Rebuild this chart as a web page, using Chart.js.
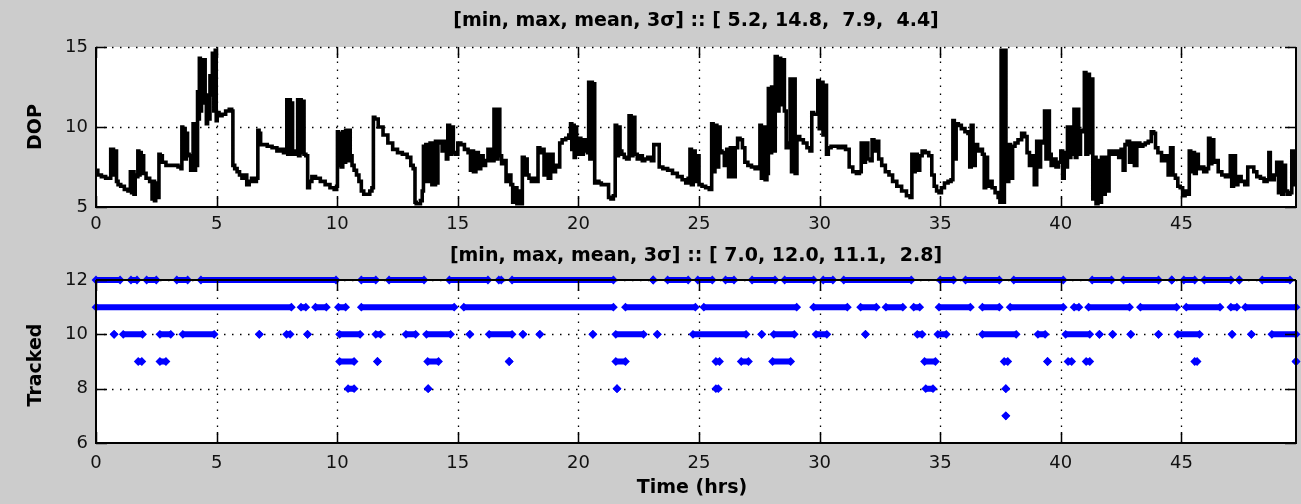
<!DOCTYPE html>
<html>
<head>
<meta charset="utf-8">
<script src="https://cdn.jsdelivr.net/npm/chart.js@4.4.1/dist/chart.umd.min.js"></script>
<style>
    body{margin:0;background:#cccccc;width:1301px;height:504px;overflow:hidden}
    .panel{position:absolute;left:0;width:1301px}
    #top-panel{top:0;height:240px}
    #bottom-panel{top:240px;height:264px}
</style>
</head>
<body>
<div class="panel" id="top-panel"><canvas id="dop-chart"></canvas></div>
<div class="panel" id="bottom-panel"><canvas id="tracked-chart"></canvas></div>
<script>
//----------------------------------DATA-----------------------------------------------------------

const hourTicks = [0,5,10,15,20,25,30,35,40,45]
const hourMax = 49.75
const dopTicks = [5,10,15]
const trackedTicks = [6,8,10,12]

const dopTitle = '[min, max, mean, 3\u03c3] :: [ 5.2, 14.8,  7.9,  4.4]'
const trackedTitle = '[min, max, mean, 3\u03c3] :: [ 7.0, 12.0, 11.1,  2.8]'

// DOP trace (hours / value)
const dopHours = [
    0,0.15,0.3,0.5,0.6,0.62,0.7,0.75,0.82,0.88,
    0.95,1.1,1.25,1.4,1.45,1.5,1.55,1.6,1.65,1.72,
    1.75,1.8,1.85,1.9,1.95,2.0,2.15,2.3,2.35,2.4,
    2.45,2.5,2.55,2.6,2.62,2.7,2.8,3.0,3.3,3.5,
    3.55,3.57,3.62,3.67,3.72,3.77,3.82,3.9,3.95,4.0,
    4.05,4.1,4.15,4.2,4.22,4.27,4.3,4.35,4.4,4.45,
    4.5,4.55,4.6,4.65,4.7,4.75,4.8,4.85,4.92,4.97,
    5.0,5.05,5.15,5.3,5.45,5.6,5.65,5.7,5.8,5.9,
    6.0,6.1,6.2,6.3,6.4,6.5,6.6,6.7,6.72,6.8,
    6.85,7.0,7.2,7.4,7.6,7.7,7.85,7.9,7.92,7.98,
    8.03,8.08,8.12,8.18,8.25,8.35,8.37,8.43,8.48,8.53,
    8.6,8.65,8.75,8.8,8.9,9.0,9.2,9.4,9.6,9.8,
    9.95,10.0,10.02,10.08,10.14,10.2,10.26,10.32,10.38,10.45,
    10.5,10.58,10.65,10.75,10.85,10.95,11.05,11.15,11.3,11.4,
    11.48,11.52,11.6,11.8,12.0,12.2,12.4,12.6,12.8,13.0,
    13.1,13.2,13.25,13.3,13.4,13.5,13.55,13.6,13.65,13.7,
    13.75,13.8,13.9,13.95,14.0,14.05,14.1,14.15,14.2,14.3,
    14.4,14.5,14.55,14.62,14.7,14.78,14.85,14.95,15.05,15.2,
    15.35,15.5,15.55,15.6,15.7,15.8,15.9,16.0,16.1,16.2,
    16.3,16.45,16.55,16.62,16.7,16.78,16.85,16.95,17.05,17.15,
    17.25,17.3,17.4,17.5,17.6,17.65,17.7,17.8,17.85,17.9,
    18.0,18.1,18.2,18.3,18.35,18.45,18.55,18.6,18.7,18.8,
    18.9,19.0,19.1,19.2,19.25,19.4,19.55,19.65,19.7,19.75,
    19.8,19.85,19.9,19.95,20.05,20.15,20.25,20.35,20.4,20.45,
    20.5,20.55,20.6,20.65,20.7,20.8,20.9,21.0,21.2,21.3,
    21.4,21.5,21.55,21.62,21.7,21.75,21.85,21.95,22.05,22.15,
    22.22,22.3,22.38,22.5,22.6,22.7,22.8,22.95,23.1,23.15,
    23.3,23.4,23.6,23.8,24.0,24.2,24.4,24.5,24.6,24.65,
    24.72,24.8,24.88,24.95,25.05,25.2,25.35,25.5,25.55,25.62,
    25.7,25.78,25.85,25.9,26.0,26.1,26.2,26.25,26.35,26.45,
    26.55,26.65,26.75,26.85,26.95,27.1,27.25,27.4,27.5,27.55,
    27.62,27.7,27.78,27.85,27.9,27.97,28.05,28.12,28.2,28.28,
    28.35,28.42,28.5,28.58,28.65,28.75,28.8,28.87,28.95,29.02,
    29.1,29.25,29.4,29.55,29.65,29.7,29.8,29.9,29.95,30.02,
    30.1,30.18,30.25,30.32,30.4,30.55,30.7,30.85,31.0,31.15,
    31.3,31.45,31.6,31.7,31.75,31.85,31.95,32.05,32.15,32.2,
    32.3,32.4,32.5,32.65,32.8,32.95,33.1,33.3,33.5,33.7,
    33.8,33.85,33.92,34.0,34.1,34.2,34.3,34.45,34.6,34.7,
    34.8,34.9,35.0,35.1,35.25,35.4,35.5,35.55,35.62,35.7,
    35.8,35.95,36.1,36.2,36.25,36.32,36.4,36.5,36.6,36.7,
    36.8,36.85,36.92,37.0,37.1,37.2,37.35,37.45,37.5,37.55,
    37.62,37.7,37.75,37.8,37.88,37.95,38.05,38.15,38.3,38.45,
    38.55,38.65,38.75,38.85,38.95,39.05,39.12,39.2,39.3,39.35,
    39.42,39.5,39.55,39.65,39.75,39.85,39.95,40.05,40.1,40.18,
    40.25,40.3,40.38,40.45,40.52,40.57,40.63,40.7,40.78,40.85,
    40.95,41.0,41.08,41.15,41.22,41.3,41.35,41.42,41.5,41.58,
    41.65,41.72,41.8,41.88,41.95,42.05,42.2,42.35,42.45,42.55,
    42.62,42.7,42.8,42.9,43.0,43.1,43.2,43.35,43.45,43.55,
    43.7,43.8,43.9,43.95,44.1,44.25,44.4,44.5,44.6,44.7,
    44.8,44.9,45.0,45.1,45.2,45.3,45.35,45.42,45.5,45.58,
    45.65,45.75,45.85,46.0,46.1,46.15,46.22,46.3,46.38,46.45,
    46.6,46.75,46.9,47.0,47.05,47.12,47.2,47.28,47.4,47.55,
    47.7,47.8,47.95,48.05,48.2,48.35,48.5,48.6,48.65,48.72,
    48.8,48.9,49.0,49.05,49.12,49.2,49.28,49.35,49.45,49.55,
    49.6,49.67,49.75
]
const dopValues = [
    7.3,7.0,6.9,6.8,6.8,8.6,8.6,7.0,8.5,6.6,
    6.4,6.3,6.1,6.0,7.2,5.9,7.2,5.8,7.0,6.9,
    8.5,7.0,8.4,7.2,8.2,7.1,6.8,6.6,5.5,6.6,
    5.4,6.5,5.6,5.6,8.3,8.2,7.8,7.6,7.6,7.5,
    7.4,10.0,8.0,9.9,8.0,9.6,8.3,8.2,7.3,7.3,
    10.2,7.3,10.1,7.6,12.2,10.5,14.3,11.0,14.2,11.5,
    14.2,12.0,10.2,11.8,10.5,13.2,12.0,14.6,11.0,14.8,
    10.4,10.9,10.7,10.8,11.0,11.1,11.0,7.6,7.4,7.2,
    7.0,6.8,7.0,6.4,6.6,6.8,6.6,6.8,9.8,9.6,
    8.9,8.9,8.8,8.7,8.5,8.6,8.4,8.6,11.7,8.3,
    11.7,8.3,11.5,8.5,8.3,8.4,11.7,8.2,11.7,8.4,
    11.6,8.3,8.2,6.2,6.6,6.9,6.8,6.6,6.4,6.2,
    6.1,6.3,9.7,7.6,9.6,7.5,9.7,7.8,9.8,7.9,
    9.8,8.2,7.6,7.3,7.0,6.6,6.0,5.8,5.8,6.0,
    6.2,10.6,10.5,10.0,9.5,9.0,8.6,8.4,8.3,8.1,
    7.6,7.4,5.3,5.2,5.2,5.4,6.0,8.8,6.6,8.9,
    6.6,8.9,9.0,6.4,9.0,6.4,9.1,6.5,9.0,9.1,
    8.5,9.1,8.0,10.1,8.3,10.0,8.4,8.3,9.0,8.9,
    8.6,8.4,7.3,8.5,7.2,8.4,7.4,8.2,7.6,7.9,
    8.6,7.9,11.1,8.0,11.1,8.2,7.7,7.9,6.6,7.0,
    6.4,5.3,6.2,5.2,6.0,5.2,8.1,7.0,8.0,7.0,
    6.8,6.6,6.8,6.6,8.7,8.4,8.6,7.0,8.3,6.8,
    8.3,7.2,7.6,7.5,9.0,9.2,9.3,9.5,10.2,8.6,
    10.1,8.1,10.0,8.3,9.3,8.3,9.2,8.5,8.4,12.8,
    8.0,12.8,8.3,12.7,6.5,6.6,6.5,6.4,6.4,5.6,
    5.5,5.7,10.1,8.2,10.0,8.5,8.3,8.1,8.0,10.7,
    8.2,10.6,8.3,8.0,8.2,7.9,8.0,8.1,7.9,8.9,
    8.9,7.5,7.4,7.3,7.1,6.9,6.7,6.5,6.8,8.6,
    6.4,8.5,6.6,8.2,6.4,6.3,6.2,6.1,10.2,7.2,
    10.1,7.5,10.0,8.5,8.4,7.6,8.6,6.9,8.7,6.9,
    8.7,9.3,9.2,8.7,7.8,7.6,7.5,7.4,7.5,10.1,
    6.8,10.0,6.7,7.1,12.4,8.4,12.5,8.5,14.4,11.0,
    14.3,11.4,14.2,11.0,8.7,9.0,13.0,7.2,13.0,7.1,
    9.4,9.2,9.0,8.7,8.5,10.9,10.8,10.8,12.9,9.9,
    12.8,9.5,12.6,8.3,8.7,8.8,8.8,8.7,8.8,8.6,
    7.5,7.2,7.1,7.2,9.0,7.8,9.0,8.0,7.9,9.2,
    8.5,9.1,8.0,7.6,7.2,7.0,6.6,6.3,6.0,5.7,
    5.6,8.3,7.2,8.3,7.3,8.2,8.5,8.4,8.2,7.0,
    6.3,6.0,5.9,6.2,6.5,6.6,6.7,10.4,8.0,10.2,
    10.1,9.9,9.7,9.6,7.5,10.1,7.6,8.9,8.5,8.6,
    8.3,6.2,8.1,6.3,6.6,6.2,5.9,5.6,5.3,14.8,
    5.3,14.8,8.0,6.6,8.9,6.8,8.8,9.0,9.2,9.6,
    9.4,8.4,7.6,8.2,6.4,9.1,7.5,9.1,9.0,11.0,
    8.0,11.0,8.3,7.6,8.0,7.5,7.8,8.5,6.8,8.4,
    7.5,10.0,8.1,10.0,8.3,11.1,8.1,11.1,8.3,9.8,
    9.7,13.4,8.3,13.3,8.4,13.0,5.5,8.1,5.2,7.9,
    5.3,8.1,5.8,8.1,6.0,8.5,8.3,8.5,8.1,8.6,
    7.3,8.9,9.1,7.8,9.0,7.6,9.0,8.8,8.9,9.0,
    9.1,9.7,9.6,8.7,8.4,7.9,8.2,7.0,8.7,7.0,
    6.8,6.3,6.2,5.7,6.0,5.8,8.5,7.2,8.4,7.1,
    8.3,7.4,7.5,7.2,7.4,9.3,7.7,9.2,7.8,7.9,
    7.2,7.0,6.9,7.0,8.2,6.3,8.2,6.4,6.9,6.6,
    6.4,7.5,7.5,7.2,6.9,6.8,6.6,6.7,8.4,7.0,
    6.7,7.0,7.8,5.9,7.8,5.8,7.6,6.0,5.8,5.9,
    8.5,6.4,8.3
]

// tracked satellites: [first, last] hour of each run of samples at that count
const tracked12 = [[0,1.0],[1.45,1.7],[2.1,2.5],[3.35,3.8],[4.35,9.95],[11.0,11.6],[12.15,13.6],[14.65,16.25],
    [16.7,16.8],[17.25,21.45],[23.1,23.1],[23.7,24.55],[24.95,25.55],[26.1,26.45],[27.2,28.15],[28.55,29.75],
    [30.15,30.55],[31.0,33.8],[35.0,35.55],[36.05,37.45],[38.05,40.1],[41.3,42.1],[42.6,44.05],[44.6,44.6],
    [45.1,45.55],[45.95,47.05],[47.4,47.4],[48.35,49.5]]
const tracked11 = [[0,8.1],[8.5,8.7],[9.1,9.55],[10.05,10.35],[11.0,14.85],[15.25,21.45],[21.95,24.85],[25.2,29.05],
    [29.75,31.15],[31.7,32.35],[32.75,33.45],[33.9,34.15],[34.95,36.25],[36.75,37.45],[37.9,40.1],[40.55,40.75],
    [41.15,42.85],[43.3,44.8],[45.2,46.6],[47.05,47.3],[47.65,49.75]]
const tracked10 = [[0.75,0.75],[1.13,1.93],[2.65,3.1],[3.6,4.9],[6.77,6.77],[7.9,8.05],[8.77,8.77],[10.1,10.95],
    [11.6,11.8],[12.85,13.25],[13.7,14.7],[15.5,15.5],[16.3,17.25],[17.7,17.7],[18.4,18.4],[20.6,20.6],
    [21.55,22.7],[23.27,23.27],[24.75,26.95],[27.6,27.6],[28.1,28.95],[29.85,30.3],[31.9,31.9],[34.05,34.25],
    [34.9,35.25],[36.75,38.15],[39.05,39.35],[40.2,41.2],[41.6,41.6],[42.15,42.15],[42.9,42.9],[44.05,44.05],
    [44.85,45.75],[47.1,47.1],[47.9,47.9],[48.75,49.75]]
const tracked9 = [[1.75,1.9],[2.65,2.9],[10.1,10.7],[11.67,11.67],[13.75,14.2],[17.13,17.13],[21.55,21.95],
    [25.7,25.85],[26.75,27.05],[28.05,28.8],[34.35,34.8],[37.65,37.8],[39.45,39.45],[40.3,40.45],[41.05,41.2],
    [45.55,45.65],[49.75,49.75]]
const tracked8 = [[10.45,10.7],[13.77,13.77],[21.6,21.6],[25.7,25.8],[34.4,34.7],[37.72,37.72]]
const tracked7 = [[37.72,37.72]]

//----------------------------------HELPERS-----------------------------------------------------------

const tickFont = {family:'"DejaVu Sans"', size:18}
const boldFont = 'bold 19px "DejaVu Sans"'

function runsToPoints(runs, level){
    let pts = []
    for(let r of runs){
        pts.push({x:r[0], y:level})
        pts.push({x:r[1], y:level})
        pts.push({x:r[1], y:null})   // break the line between runs
    }
    return pts
}

function trackedSet(runs, level){
    return {
        data: runsToPoints(runs, level),
        showLine: true,
        spanGaps: false,
        borderColor: '#0000ff',
        borderWidth: 6,
        backgroundColor: '#0000ff',
        pointStyle: 'rectRot',
        pointRadius: 4.4,
        pointBorderWidth: 0,
        clip: false,
    }
}

// matlab look: white box, dotted grid, inward ticks, bold labels
const matlabAxes = {
    id: 'matlabAxes',
    beforeDraw(chart){
        const a = chart.chartArea, ctx = chart.ctx
        ctx.save()
        ctx.fillStyle = '#ffffff'
        ctx.fillRect(a.left, a.top, a.right - a.left, a.bottom - a.top)
        ctx.restore()
    },
    beforeDatasetsDraw(chart, args, opts){
        const a = chart.chartArea, ctx = chart.ctx
        const x = chart.scales.x, y = chart.scales.y
        ctx.save()
        ctx.strokeStyle = '#000'
        ctx.lineWidth = 1.3
        ctx.setLineDash([1.5, 6.5])
        for(let v of hourTicks){
            if(v == 0) continue
            let px = Math.round(x.getPixelForValue(v)) + 0.5
            ctx.beginPath(); ctx.moveTo(px, a.bottom); ctx.lineTo(px, a.top); ctx.stroke()
        }
        for(let v of opts.yTicks){
            let py = Math.round(y.getPixelForValue(v)) + 0.5
            if(py > a.bottom - 1) continue
            ctx.beginPath(); ctx.moveTo(a.left, py); ctx.lineTo(a.right, py); ctx.stroke()
        }
        ctx.restore()
    },
    afterDatasetsDraw(chart, args, opts){
        const a = chart.chartArea, ctx = chart.ctx
        const x = chart.scales.x, y = chart.scales.y
        const tl = 11
        ctx.save()
        ctx.strokeStyle = '#000'
        ctx.lineWidth = 2
        ctx.setLineDash([])
        ctx.beginPath()
        if(opts.solidTop){
            ctx.moveTo(a.left, a.top); ctx.lineTo(a.right, a.top)
        }
        ctx.moveTo(a.left, a.top); ctx.lineTo(a.left, a.bottom); ctx.lineTo(a.right, a.bottom); ctx.lineTo(a.right, a.top)
        ctx.stroke()
        ctx.lineWidth = 1.5
        ctx.beginPath()
        for(let v of hourTicks){
            let px = Math.round(x.getPixelForValue(v)) + 0.5
            ctx.moveTo(px, a.bottom); ctx.lineTo(px, a.bottom - tl)
            ctx.moveTo(px, a.top); ctx.lineTo(px, a.top + tl)
        }
        for(let v of opts.yTicks){
            let py = Math.round(y.getPixelForValue(v)) + 0.5
            ctx.moveTo(a.left, py); ctx.lineTo(a.left + tl, py)
            ctx.moveTo(a.right, py); ctx.lineTo(a.right - tl, py)
        }
        ctx.stroke()
        ctx.restore()
    },
    afterDraw(chart, args, opts){
        const a = chart.chartArea, ctx = chart.ctx
        ctx.save()
        ctx.fillStyle = '#000'
        ctx.font = boldFont
        ctx.textAlign = 'center'
        ctx.textBaseline = 'middle'
        ctx.fillText(opts.title, (a.left + a.right) / 2, opts.titleY)
        if(opts.xLabel) ctx.fillText(opts.xLabel, (a.left + a.right) / 2 - 4, opts.xLabelY)
        ctx.translate(opts.yLabelX, opts.yLabelY)
        ctx.rotate(-Math.PI / 2)
        ctx.fillText(opts.yLabel, 0, 0)
        ctx.restore()
    }
}

function axisOptions(min, max, ticks, padding, fit){
    return {
        type: 'linear', min: min, max: max,
        afterBuildTicks: (s) => { s.ticks = ticks.map(v => ({value: v})) },
        afterFit: fit,
        grid: {display: false, drawTicks: false},
        border: {display: false},
        ticks: {autoSkip: false, maxRotation: 0, padding: padding, font: tickFont, color: '#111'}
    }
}

//----------------------------------------CHARTS------------------------------------------------------

let dopChart = new Chart(document.getElementById('dop-chart'), {
    type: 'scatter',
    data: {
        datasets: [{
            data: dopHours.map((h, i) => ({x: h, y: dopValues[i]})),
            showLine: true,
            stepped: 'middle',
            borderColor: '#000',
            borderWidth: 3.6,
            borderJoinStyle: 'miter',
            pointRadius: 0,
        }]
    },
    options: {
        responsive: true, maintainAspectRatio: false, animation: false,
        layout: {padding: {left: 0, right: 5, top: 47, bottom: 0}},
        plugins: {
            legend: {display: false}, tooltip: {enabled: false},
            matlabAxes: {yTicks: dopTicks, solidTop: false, title: dopTitle, titleY: 21,
                yLabel: 'DOP', yLabelX: 36, yLabelY: 127}
        },
        scales: {
            x: axisOptions(0, hourMax, hourTicks, 7, (s) => { s.height = 33 }),
            y: axisOptions(5, 15, dopTicks, 8, (s) => { s.width = 96 })
        }
    },
    plugins: [matlabAxes]
})

let trackedChart = new Chart(document.getElementById('tracked-chart'), {
    type: 'scatter',
    data: {
        datasets: [
            trackedSet(tracked12, 12),
            trackedSet(tracked11, 11),
            trackedSet(tracked10, 10),
            trackedSet(tracked9, 9),
            trackedSet(tracked8, 8),
            trackedSet(tracked7, 7),
        ]
    },
    options: {
        responsive: true, maintainAspectRatio: false, animation: false,
        layout: {padding: {left: 0, right: 5, top: 40, bottom: 0}},
        plugins: {
            legend: {display: false}, tooltip: {enabled: false},
            matlabAxes: {yTicks: trackedTicks, solidTop: true, title: trackedTitle, titleY: 16,
                yLabel: 'Tracked', yLabelX: 36, yLabelY: 125, xLabel: 'Time (hrs)', xLabelY: 248}
        },
        scales: {
            x: axisOptions(0, hourMax, hourTicks, 10, (s) => { s.height = 61 }),
            y: axisOptions(6, 12, trackedTicks, 8, (s) => { s.width = 96 })
        }
    },
    plugins: [matlabAxes]
})
</script>
</body>
</html>
